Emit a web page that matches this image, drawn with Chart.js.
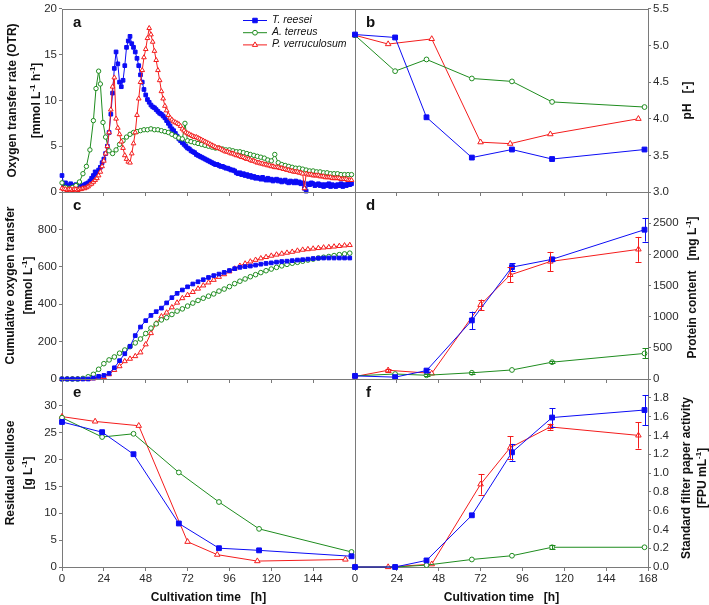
<!DOCTYPE html>
<html><head><meta charset="utf-8">
<script src="https://cdn.jsdelivr.net/npm/chart.js@4.4.1/dist/chart.umd.min.js"></script>
<style>
html,body{margin:0;padding:0;background:#fff;}
#wrap{position:relative;width:709px;height:605px;overflow:hidden;}
#wrap canvas{position:absolute;left:0;top:0;}
</style></head><body>
<div id="wrap">
<canvas id="pa" width="709" height="605"></canvas>
<canvas id="pb" width="709" height="605"></canvas>
<canvas id="pc" width="709" height="605"></canvas>
<canvas id="pd" width="709" height="605"></canvas>
<canvas id="pe" width="709" height="605"></canvas>
<canvas id="pf" width="709" height="605"></canvas>
</div>
<script>
// ---------------- DATA ----------------
const SERIES_NAMES = ['T. reesei', 'A. terreus', 'P. verruculosum'];
const X_TICKS = [0, 24, 48, 72, 96, 120, 144, 168];

// (a) OTR, mmol L-1 h-1 ; T. reesei and P. verruculosum sampled hourly
const otrTime = [0,1,2,3,4,5,6,7,8,9,10,11,12,13,14,15,16,17,18,19,20,21,22,23,24,25,26,27,28,29,30,31,32,33,34,35,36,37,38,39,40,41,42,43,44,45,46,47,48,49,50,51,52,53,54,55,56,57,58,59,60,61,62,63,64,65,66,67,68,69,70,71,72,73,74,75,76,77,78,79,80,81,82,83,84,85,86,87,88,89,90,91,92,93,94,95,96,97,98,99,100,101,102,103,104,105,106,107,108,109,110,111,112,113,114,115,116,117,118,119,120,121,122,123,124,125,126,127,128,129,130,131,132,133,134,135,136,137,138,139,140,141,142,143,144,145,146,147,148,149,150,151,152,153,154,155,156,157,158,159,160,161,162,163,164,165,166];
const otrReesei = [1.8,0.8,1.0,0.6,0.7,0.9,0.6,0.7,0.8,0.6,
 0.7,0.6,0.7,0.8,0.9,1.0,1.2,1.5,1.8,2.2,
 2.0,2.4,2.7,3.2,3.6,4.2,5.0,6.5,8.5,10.8,
 13.5,15.3,14.0,12.0,11.5,12.2,13.8,15.8,16.5,17.0,
 16.2,15.8,15.3,14.6,13.8,12.8,12.0,11.2,10.6,10.1,
 9.8,9.5,9.3,9.2,9.0,8.8,8.6,8.5,8.3,8.1,
 7.8,7.5,7.2,6.9,6.7,6.4,6.1,5.8,5.6,5.4,
 5.2,5.0,4.8,4.7,4.5,4.4,4.3,4.1,4.0,3.9,
 3.8,3.7,3.6,3.5,3.4,3.3,3.2,3.1,3.0,3.0,
 2.9,2.8,2.8,2.7,2.6,2.6,2.5,2.4,2.4,2.3,
 2.1,2.0,2.1,1.9,2.0,1.8,1.9,1.7,1.8,1.6,
 1.7,1.5,1.6,1.5,1.4,1.6,1.4,1.3,1.5,1.3,
 1.4,1.2,1.3,1.4,1.2,1.3,1.1,1.2,1.3,1.1,
 1.0,1.2,1.1,1.0,1.2,1.0,1.1,0.9,1.0,0.4,
 0.1,0.9,0.8,1.0,0.9,0.7,0.8,0.9,0.7,0.8,
 0.6,0.8,0.7,0.9,0.6,0.8,0.7,0.6,0.8,0.7,
 0.9,0.6,0.8,0.7,0.9,0.8,0.9];
const otrVerruculosum = [0.4,0.3,0.3,0.2,0.3,0.3,0.2,0.3,0.3,0.2,
 0.3,0.3,0.4,0.4,0.5,0.6,0.8,0.9,1.1,1.3,
 1.5,1.8,2.2,2.8,3.4,4.2,5.0,6.5,9.0,11.5,
 12.5,8.0,7.0,6.3,5.5,4.8,4.0,3.6,3.3,3.2,
 4.2,5.3,6.5,8.4,10.2,12.0,13.3,14.7,15.6,16.8,
 17.9,17.2,16.4,15.4,14.4,13.3,12.2,11.0,10.2,9.4,
 8.9,8.4,8.1,7.9,7.7,7.6,7.5,7.4,7.2,6.9,
 6.7,6.5,6.4,6.3,6.2,6.1,6.0,6.0,5.9,5.8,
 5.7,5.6,5.5,5.4,5.3,5.2,5.1,5.0,4.9,4.8,
 4.8,4.7,4.6,4.5,4.4,4.4,4.3,4.2,4.2,4.1,
 4.0,4.0,3.9,3.8,3.8,3.7,3.6,3.6,3.5,3.4,
 3.4,3.3,3.2,3.2,3.1,3.1,3.0,3.0,2.9,2.9,
 2.8,2.8,2.7,2.7,2.7,2.6,2.6,2.5,2.5,2.4,
 2.4,2.3,2.3,2.2,2.2,2.2,2.1,2.1,2.0,0.4,
 2.0,1.9,1.9,1.9,1.8,1.8,1.8,1.8,1.7,1.7,
 1.7,1.6,1.6,1.6,1.6,1.5,1.5,1.5,1.5,1.5,
 1.4,1.4,1.4,1.4,1.3,1.3,1.3];
const otrTerreusTime = [0,2,4,6,8,10,12,14,16,18,19.5,21,22,23.5,25,27,29,31,33,35,37,39,41,43,45,47,49,51,53,55,57,59,61,63,65,67,69,70.5,72,74,76,78,80,82,84,86,88,90,92,94,96,98,100,102,104,106,108,110,112,114,116,118,120,122,124,126,128,130,132,134,136,138,140,142,144,146,148,150,152,154,156,158,160,162,164,166];
const otrTerreus = [1.0,0.5,0.4,0.5,0.7,1.1,2.0,2.8,4.6,7.8,11.3,13.2,11.8,7.6,6.0,4.5,4.2,4.6,5.2,5.6,6.0,6.3,6.5,6.6,6.7,6.8,6.8,6.9,6.8,6.8,6.7,6.6,6.5,6.3,6.1,5.9,5.8,7.5,5.6,
 5.5,5.4,5.3,5.2,5.1,5.0,4.9,4.8,4.8,4.7,4.6,4.6,4.5,4.4,4.4,4.3,4.2,4.1,4.0,3.9,3.8,3.7,3.5,3.4,4.1,3.2,3.0,2.9,2.8,2.7,2.6,2.6,2.5,2.4,2.3,2.3,2.2,2.2,2.1,2.1,2.0,2.0,2.0,1.9,1.9,1.9,1.9];

// (c) cumulative oxygen transfer, mmol L-1
const cumTime = [0,3,6,9,12,15,18,21,24,27,30,33,36,39,42,45,48,51,54,57,60,63,66,69,72,75,78,81,84,87,90,93,96,99,102,105,108,111,114,117,120,123,126,129,132,135,138,141,144,147,150,153,156,159,162,165];
const cumReesei = [0,0,0,0,0,0,5,14,19,30,60,98,135,175,232,278,312,340,360,379,407,435,458,476,493,508,520,531,543,553,561,570,580,590,597,601,604,609,614,618,621,625,628,630,633,636,638,641,644,646,647,647,647,647,647,647];
const cumTerreus = [0,0,0,0,3,12,25,52,82,102,118,138,155,173,193,214,243,272,295,316,328,345,363,375,390,406,420,432,443,455,470,481,494,510,523,535,547,558,569,579,588,597,605,613,619,624,630,636,641,647,651,655,660,665,669,673];
const cumVerruculosum = [0,0,0,0,0,0,3,6,10,25,48,68,95,108,122,142,185,245,297,335,355,383,408,432,449,465,483,500,516,530,546,560,575,590,605,617,628,637,645,652,659,665,670,675,680,686,691,694,697,700,703,705,708,711,714,716];

// offline samples (b, d, e, f)
const sampleTimeRT = [0, 23, 41, 67, 90, 113, 166];      // T. reesei, A. terreus
const sampleTimePV = [0, 19, 44, 72, 89, 112, 162.5];    // P. verruculosum

const phReesei = [5.15, 5.11, 4.02, 3.47, 3.58, 3.45, 3.58];
const phTerreus = [5.14, 4.65, 4.81, 4.55, 4.51, 4.23, 4.16];
const phVerruculosum = [5.14, 5.02, 5.09, 3.68, 3.66, 3.79, 4.00];

const protReesei = [50, 30, 135, 940, 1795, 1920, 2395];
const protReeseiErr = [0, 0, 20, 140, 65, 30, 190];
const protTerreus = [50, 80, 60, 100, 145, 270, 410];
const protTerreusErr = [0, 0, 15, 15, 0, 20, 80];
const protVerruculosum = [40, 140, 90, 1190, 1670, 1885, 2080];
const protVerruculosumErr = [0, 25, 0, 85, 120, 155, 200];

const celReesei = [27.0, 25.1, 21.0, 8.1, 3.5, 3.1, 2.0];
const celTerreus = [27.8, 24.2, 24.8, 17.6, 12.1, 7.1, 2.8];
const celVerruculosum = [28.0, 27.1, 26.3, 4.7, 2.3, 1.1, 1.4];

const fpaReesei = [0, 0, 0.07, 0.55, 1.22, 1.59, 1.67];
const fpaReeseiErr = [0, 0, 0, 0, 0.09, 0.10, 0.16];
const fpaTerreus = [0, 0, 0.02, 0.08, 0.12, 0.21, 0.21];
const fpaTerreusErr = [0, 0, 0, 0, 0, 0.02, 0];
const fpaVerruculosum = [0, 0, 0.03, 0.88, 1.27, 1.49, 1.40];
const fpaVerruculosumErr = [0, 0, 0, 0.11, 0.12, 0.03, 0.14];

// ---------------- STYLE ----------------
const FONT = "'Liberation Sans', Arial, Helvetica, sans-serif";
const AXIS = '#7a7a7a';
const TICKC = '#2a2a2a';
const TEXTC = '#111111';
const C_BLUE = '#0c0cf5';
const C_GREEN = '#1f8c1f';
const C_RED = '#f41c1c';
const W = 709, H = 605;
const YAXIS_W = 40, XAXIS_H = 22;
const RECT = {
  a: {l: 62, r: 355, t: 5, b: 192}, b: {l: 355, r: 648, t: 5, b: 192},
  c: {l: 62, r: 355, t: 192, b: 379}, d: {l: 355, r: 648, t: 192, b: 379},
  e: {l: 62, r: 355, t: 379, b: 567}, f: {l: 355, r: 648, t: 379, b: 567}
};
Chart.defaults.font.family = FONT;

function pts(ts, vs) { return vs.map((v, i) => ({x: ts[i], y: v})); }

function ds(name, color, style, data, r, order, errs) {
  const filled = style === 'rect';
  return {
    label: name, data: data, showLine: true, borderColor: color, backgroundColor: filled ? color : '#ffffff',
    borderWidth: 1, pointStyle: style, pointRadius: r, pointHoverRadius: r, pointBorderWidth: 1,
    pointBorderColor: color, pointBackgroundColor: filled ? color : '#ffffff', tension: 0, clip: false,
    order: order, errors: errs || null
  };
}

function drawRich(ctx, segs, x, y, rot, size, weight, style, align) {
  ctx.save();
  ctx.translate(x, y); ctx.rotate(rot);
  const fm = `${style || 'normal'} ${weight} ${size}px ${FONT}`;
  const fs = `${style || 'normal'} ${weight} ${Math.round(size * 0.68)}px ${FONT}`;
  let total = 0;
  segs.forEach(s => { ctx.font = s[1] ? fs : fm; total += ctx.measureText(s[0]).width; });
  let cx = align === 'left' ? 0 : -total / 2;
  ctx.fillStyle = TEXTC; ctx.textBaseline = 'middle'; ctx.textAlign = 'left';
  segs.forEach(s => {
    ctx.font = s[1] ? fs : fm;
    ctx.fillText(s[0], cx, s[1] ? -size * 0.36 : 0);
    cx += ctx.measureText(s[0]).width;
  });
  ctx.restore();
}

const framePlugin = {
  id: 'frame',
  beforeDatasetsDraw(chart) {
    const a = chart.chartArea, ctx = chart.ctx;
    ctx.save(); ctx.strokeStyle = AXIS; ctx.lineWidth = 1;
    ctx.strokeRect(Math.round(a.left) + 0.5, Math.round(a.top) + 0.5, Math.round(a.right - a.left), Math.round(a.bottom - a.top));
    ctx.restore();
  },
  afterDatasetsDraw(chart) {
    const ctx = chart.ctx, ys = chart.scales.y;
    chart.data.datasets.forEach((d, i) => {
      if (!d.errors) return;
      const meta = chart.getDatasetMeta(i);
      ctx.save(); ctx.strokeStyle = d.borderColor; ctx.lineWidth = 1;
      d.errors.forEach((e, j) => {
        if (!e) return;
        const p = meta.data[j]; const v = d.data[j].y;
        const y1 = ys.getPixelForValue(v - e), y2 = ys.getPixelForValue(v + e);
        const x = Math.round(p.x) + 0.5;
        ctx.beginPath();
        ctx.moveTo(x, y1); ctx.lineTo(x, y2);
        ctx.moveTo(x - 3, Math.round(y1) + 0.5); ctx.lineTo(x + 3, Math.round(y1) + 0.5);
        ctx.moveTo(x - 3, Math.round(y2) + 0.5); ctx.lineTo(x + 3, Math.round(y2) + 0.5);
        ctx.stroke();
      });
      ctx.restore();
    });
  }
};

function makePanel(id, key, side, y, showX, datasets, deco) {
  const r = RECT[key];
  const leftPanel = side === 'left';
  const xh = showX ? XAXIS_H : 0;
  const pad = {
    left: leftPanel ? r.l - YAXIS_W : r.l,
    right: leftPanel ? W - r.r : W - r.r - YAXIS_W,
    top: r.t,
    bottom: H - r.b - xh
  };
  const cfg = {
    type: 'scatter',
    data: {datasets: datasets},
    options: {
      responsive: false, animation: false, devicePixelRatio: 1, events: [],
      layout: {padding: pad},
      plugins: {legend: {display: false}, tooltip: {enabled: false}},
      scales: {
        x: {
          type: 'linear', position: 'bottom', min: 0, max: 168,
          afterFit: s => { s.height = xh; },
          afterBuildTicks: s => { s.ticks = X_TICKS.map(v => ({value: v})); },
          ticks: {display: showX, autoSkip: false, maxRotation: 0, minRotation: 0, padding: 1, color: TICKC, font: {size: 11.5, family: FONT},
            callback: v => (leftPanel && v === 168) ? '' : String(v)},
          grid: {display: true, drawOnChartArea: false, drawTicks: true, tickLength: 4, color: AXIS, lineWidth: 1},
          border: {display: false}
        },
        y: {
          type: 'linear', position: side, min: y.min, max: y.max,
          afterFit: s => { s.width = YAXIS_W; },
          afterBuildTicks: s => { s.ticks = y.ticks.map(v => ({value: v})); },
          ticks: {autoSkip: false, padding: 2, color: TICKC, font: {size: 11.5, family: FONT},
            callback: v => (y.hideMax && Math.abs(v - y.max) < 1e-9) ? '' : (y.dec != null ? Number(v).toFixed(y.dec) : String(v))},
          grid: {display: true, drawOnChartArea: false, drawTicks: true, tickLength: 3, color: AXIS, lineWidth: 1},
          border: {display: false}
        }
      }
    },
    plugins: [framePlugin, {id: 'deco', afterDraw(chart) { deco(chart, chart.ctx, chart.chartArea); }}]
  };
  return new Chart(document.getElementById(id), cfg);
}

const PI2 = Math.PI / 2;
function letter(ctx, a, ch) {
  ctx.save(); ctx.font = `bold 15px ${FONT}`; ctx.fillStyle = TEXTC; ctx.textBaseline = 'middle'; ctx.textAlign = 'left';
  ctx.fillText(ch, a.left + 11, a.top + 14); ctx.restore();
}
function xTitle(ctx, a) {
  drawRich(ctx, [['Cultivation time   [h]']], (a.left + a.right) / 2, 598, 0, 12, 'bold');
}

// (a)
makePanel('pa', 'a', 'left', {min: 0, max: 20, ticks: [0, 5, 10, 15, 20]}, false, [
  ds(SERIES_NAMES[0], C_BLUE, 'rect', pts(otrTime, otrReesei), 2.6, 3),
  ds(SERIES_NAMES[1], C_GREEN, 'circle', pts(otrTerreusTime, otrTerreus), 2.2, 2),
  ds(SERIES_NAMES[2], C_RED, 'triangle', pts(otrTime, otrVerruculosum), 2.7, 1)
], (chart, ctx, a) => {
  letter(ctx, a, 'a');
  const cy = (a.top + a.bottom) / 2;
  drawRich(ctx, [['Oxygen transfer rate (OTR)']], 13, cy, -PI2, 12, 'bold');
  drawRich(ctx, [['[mmol L'], ['-1', 1], [' h'], ['-1', 1], [']']], 37, cy, -PI2, 12, 'bold');
  const leg = [[SERIES_NAMES[0], C_BLUE, 'rect', 3.2, true], [SERIES_NAMES[1], C_GREEN, 'circle', 2.4, false], [SERIES_NAMES[2], C_RED, 'triangle', 3, false]];
  leg.forEach((L, i) => {
    const yy = 20 + i * 12.2;
    ctx.save();
    ctx.strokeStyle = L[1]; ctx.lineWidth = 1;
    ctx.beginPath(); ctx.moveTo(243, yy + 0.5); ctx.lineTo(267, yy + 0.5); ctx.stroke();
    ctx.fillStyle = L[4] ? L[1] : '#ffffff';
    Chart.helpers.drawPoint(ctx, {pointStyle: L[2], radius: L[3], rotation: 0, borderWidth: 1}, 255, yy + 0.5);
    ctx.restore();
    drawRich(ctx, [[L[0]]], 272, yy, 0, 10.5, 'normal', 'italic', 'left');
  });
});

// (b)
makePanel('pb', 'b', 'right', {min: 3, max: 5.5, ticks: [3, 3.5, 4, 4.5, 5, 5.5], dec: 1}, false, [
  ds(SERIES_NAMES[0], C_BLUE, 'rect', pts(sampleTimeRT, phReesei), 3.4, 1),
  ds(SERIES_NAMES[1], C_GREEN, 'circle', pts(sampleTimeRT, phTerreus), 2.4, 2),
  ds(SERIES_NAMES[2], C_RED, 'triangle', pts(sampleTimePV, phVerruculosum), 3.2, 3)
], (chart, ctx, a) => {
  letter(ctx, a, 'b');
  drawRich(ctx, [['pH   [-]']], 688, (a.top + a.bottom) / 2, -PI2, 12, 'bold');
});

// (c)
makePanel('pc', 'c', 'left', {min: 0, max: 1000, ticks: [0, 200, 400, 600, 800, 1000], hideMax: true}, false, [
  ds(SERIES_NAMES[0], C_BLUE, 'rect', pts(cumTime, cumReesei), 2.6, 1),
  ds(SERIES_NAMES[1], C_GREEN, 'circle', pts(cumTime, cumTerreus), 2.3, 2),
  ds(SERIES_NAMES[2], C_RED, 'triangle', pts(cumTime, cumVerruculosum), 2.9, 3)
], (chart, ctx, a) => {
  letter(ctx, a, 'c');
  const cy = (a.top + a.bottom) / 2;
  drawRich(ctx, [['Cumulative oxygen transfer']], 11, cy, -PI2, 12, 'bold');
  drawRich(ctx, [['[mmol L'], ['-1', 1], [']']], 29, cy, -PI2, 12, 'bold');
});

// (d)
makePanel('pd', 'd', 'right', {min: 0, max: 3000, ticks: [0, 500, 1000, 1500, 2000, 2500, 3000], hideMax: true}, false, [
  ds(SERIES_NAMES[0], C_BLUE, 'rect', pts(sampleTimeRT, protReesei), 3.4, 1, protReeseiErr),
  ds(SERIES_NAMES[1], C_GREEN, 'circle', pts(sampleTimeRT, protTerreus), 2.4, 2, protTerreusErr),
  ds(SERIES_NAMES[2], C_RED, 'triangle', pts(sampleTimePV, protVerruculosum), 3.2, 3, protVerruculosumErr)
], (chart, ctx, a) => {
  letter(ctx, a, 'd');
  drawRich(ctx, [['Protein content   [mg L'], ['-1', 1], [']']], 693, (a.top + a.bottom) / 2 + 2, -PI2, 12, 'bold');
});

// (e)
makePanel('pe', 'e', 'left', {min: 0, max: 35, ticks: [0, 5, 10, 15, 20, 25, 30, 35], hideMax: true}, true, [
  ds(SERIES_NAMES[0], C_BLUE, 'rect', pts(sampleTimeRT, celReesei), 3.4, 1),
  ds(SERIES_NAMES[1], C_GREEN, 'circle', pts(sampleTimeRT, celTerreus), 2.4, 2),
  ds(SERIES_NAMES[2], C_RED, 'triangle', pts(sampleTimePV, celVerruculosum), 3.2, 3)
], (chart, ctx, a) => {
  letter(ctx, a, 'e');
  const cy = (a.top + a.bottom) / 2;
  drawRich(ctx, [['Residual cellulose']], 11, cy, -PI2, 12, 'bold');
  drawRich(ctx, [['[g L'], ['-1', 1], [']']], 29, cy, -PI2, 12, 'bold');
  xTitle(ctx, a);
});

// (f)
makePanel('pf', 'f', 'right', {min: 0, max: 2, ticks: [0, 0.2, 0.4, 0.6, 0.8, 1.0, 1.2, 1.4, 1.6, 1.8, 2.0], dec: 1, hideMax: true}, true, [
  ds(SERIES_NAMES[0], C_BLUE, 'rect', pts(sampleTimeRT, fpaReesei), 3.4, 1, fpaReeseiErr),
  ds(SERIES_NAMES[1], C_GREEN, 'circle', pts(sampleTimeRT, fpaTerreus), 2.4, 2, fpaTerreusErr),
  ds(SERIES_NAMES[2], C_RED, 'triangle', pts(sampleTimePV, fpaVerruculosum), 3.2, 3, fpaVerruculosumErr)
], (chart, ctx, a) => {
  letter(ctx, a, 'f');
  const cy = (a.top + a.bottom) / 2;
  drawRich(ctx, [['Standard filter paper activity']], 687, cy + 5, -PI2, 12, 'bold');
  drawRich(ctx, [['[FPU mL'], ['-1', 1], [']']], 703, cy + 5, -PI2, 12, 'bold');
  xTitle(ctx, a);
});
</script>
</body></html>
